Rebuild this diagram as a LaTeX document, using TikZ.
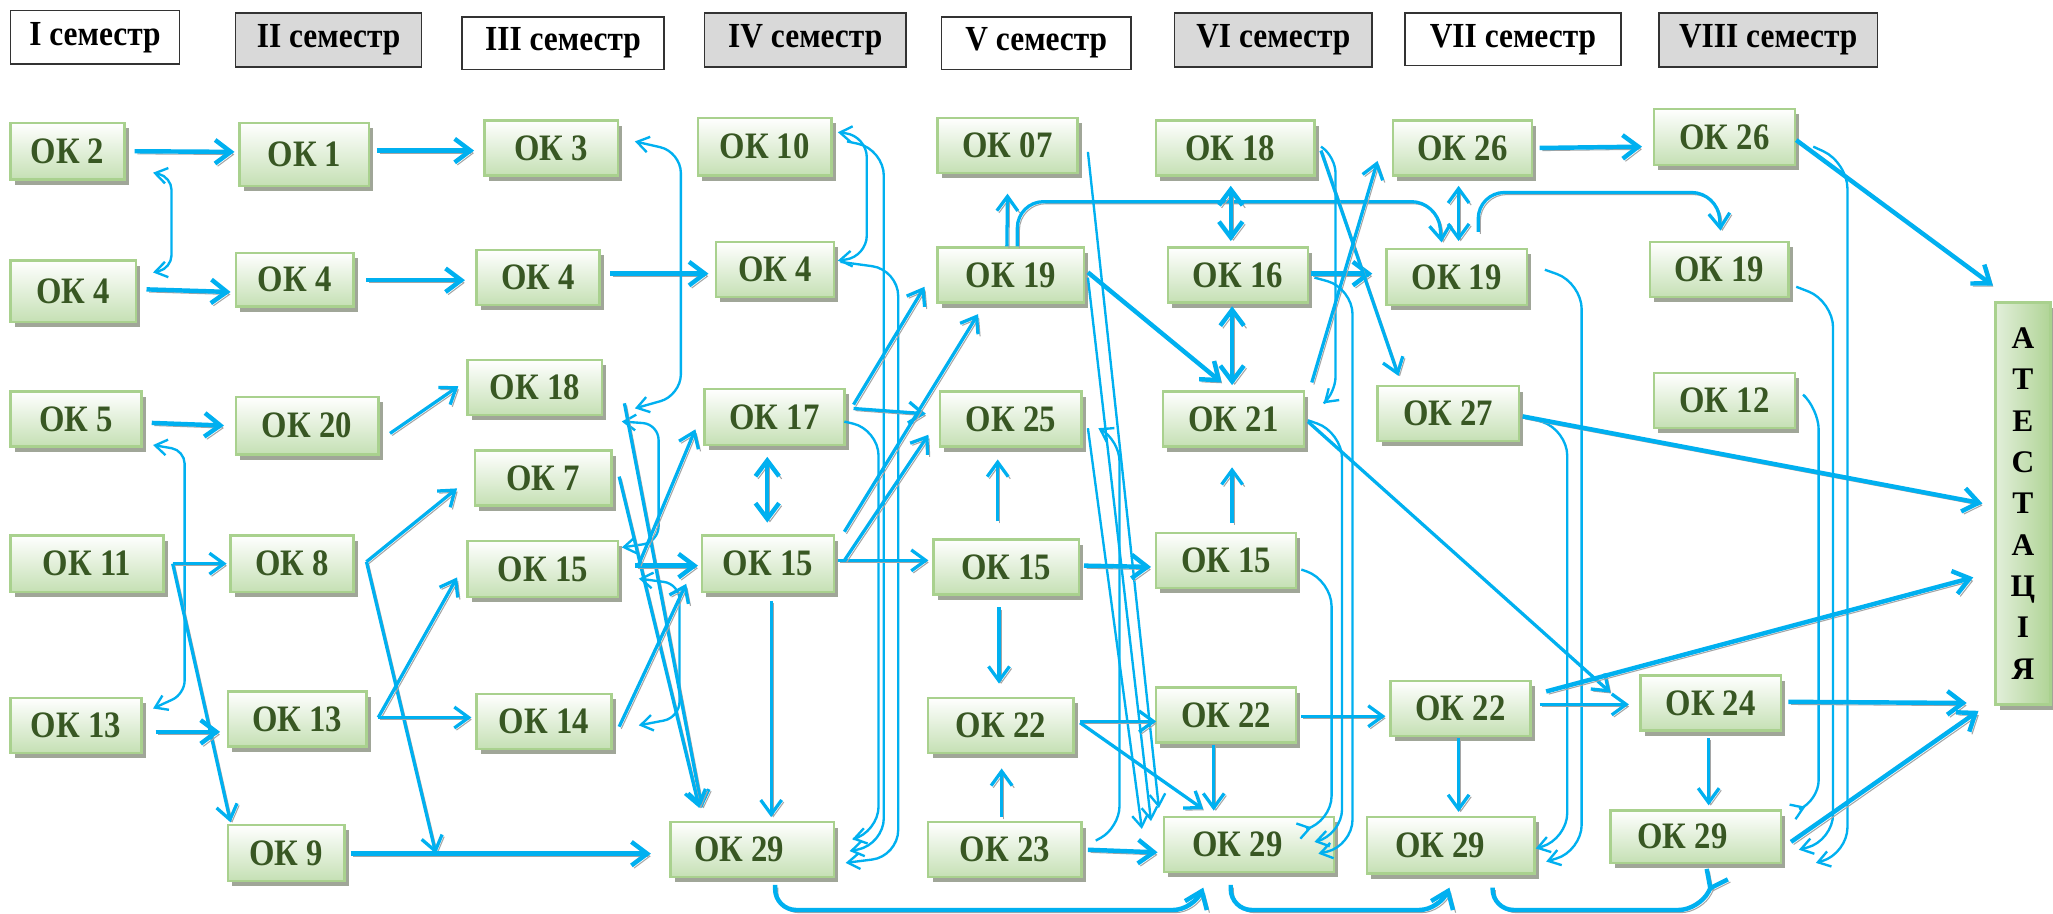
\documentclass[tikz,border=0pt]{standalone}
\usepackage{fontspec}
\setmainfont{Liberation Serif}
\usetikzlibrary{arrows.meta,shadows}
\definecolor{cy}{RGB}{0,176,240}
\definecolor{okborder}{RGB}{169,209,142}
\definecolor{okfill}{RGB}{197,224,180}
\definecolor{oktext}{RGB}{56,87,35}
\definecolor{okshadow}{RGB}{160,166,152}
\definecolor{hdrgray}{RGB}{217,217,217}
\definecolor{lshadow}{RGB}{165,165,165}
\definecolor{attleft}{RGB}{226,239,218}
\definecolor{attright}{RGB}{176,212,150}
\newcommand\okbox[7]{%
  \pgfmathsetmacro\okW{(#4-#2)*0.5}%
  \pgfmathsetmacro\okH{(#5-#3)*0.5}%
  \pgfmathsetmacro\okX{(#2+#4)/2}%
  \pgfmathsetmacro\okY{(#3+#5)/2}%
  \node[okb, minimum width=\okW pt, minimum height=\okH pt,
        label={[oktxt,xshift=#7pt]center:\scalebox{1}[1.14]{#6}}] (#1) at (\okX,\okY) {};}
\newcommand\hdrbox[7]{%
  \pgfmathsetmacro\okW{(#4-#2)*0.5}%
  \pgfmathsetmacro\okH{(#5-#3)*0.5}%
  \pgfmathsetmacro\okX{(#2+#4)/2}%
  \pgfmathsetmacro\okY{(#3+#5)/2}%
  \node[hdr, fill=#6, minimum width=\okW pt, minimum height=\okH pt] (#1) at (\okX,\okY) {\scalebox{1}[1.12]{#7}};}
\begin{document}
\begin{tikzpicture}[x=0.5pt,y=-0.5pt,
  okb/.style={draw=okborder, line width=0.9pt, top color=white, bottom color=okfill, inner sep=0pt,
    drop shadow={shadow xshift=1.6pt, shadow yshift=-2pt, fill=okshadow, opacity=1}},
  oktxt/.style={font=\bfseries\fontsize{12.5}{14}\selectfont, text=oktext, inner sep=0pt},
  hdr/.style={draw=black!80, line width=0.6pt, inner sep=0pt, font=\bfseries\fontsize{12}{14}\selectfont},
  attb/.style={draw=okborder, line width=0.9pt, left color=attleft, right color=attright, inner sep=0pt,
    align=center, font=\bfseries\fontsize{12}{15.8}\selectfont,
    drop shadow={shadow xshift=1.6pt, shadow yshift=-2pt, fill=okshadow, opacity=1}},
  thk/.style={draw=cy, line width=1.7pt, >={Straight Barb[length=6pt,width=9pt]},
    preaction={draw=lshadow, transform canvas={shift={(1pt,-1pt)}}}},
  mid/.style={draw=cy, line width=1.25pt, >={Straight Barb[length=5.5pt,width=8pt]},
    preaction={draw=lshadow, transform canvas={shift={(0.8pt,-0.8pt)}}}},
  thn/.style={draw=cy, line width=0.9pt, >={Straight Barb[length=4.5pt,width=6pt]}}
]
\useasboundingbox (0,0) rectangle (1568,698);
\fill[white] (0,0) rectangle (1568,698);

% semester headers
\hdrbox{hI}{8}{8}{137}{49}{white}{I семестр}
\hdrbox{hII}{180}{10}{322}{51}{hdrgray}{II семестр}
\hdrbox{hIII}{353}{13}{507}{53}{white}{III семестр}
\hdrbox{hIV}{538}{10}{692}{51}{hdrgray}{IV семестр}
\hdrbox{hV}{719}{13}{864}{53}{white}{V семестр}
\hdrbox{hVI}{897}{10}{1048}{51}{hdrgray}{VI семестр}
\hdrbox{hVII}{1073}{10}{1238}{50}{white}{VII семестр}
\hdrbox{hVIII}{1267}{10}{1434}{51}{hdrgray}{VIII семестр}

% boxes
\okbox{a2}{8}{94}{95}{137}{ОК 2}{0}
\okbox{a4}{8}{199}{104}{246}{ОК 4}{0}
\okbox{a5}{8}{299}{108}{341}{ОК 5}{0}
\okbox{a11}{8}{409}{125}{452}{ОК 11}{0}
\okbox{a13}{8}{533}{108}{575}{ОК 13}{0}
\okbox{b1}{183}{94}{282}{142}{ОК 1}{0}
\okbox{b4}{180}{193}{270}{234}{ОК 4}{0}
\okbox{b20}{180}{303}{289}{347}{ОК 20}{0}
\okbox{b8}{176}{409}{270}{452}{ОК 8}{0}
\okbox{b13}{174}{528}{280}{570}{ОК 13}{0}
\okbox{b9}{174}{630}{263}{673}{ОК 9}{0}
\okbox{c3}{370}{92}{472}{134}{ОК 3}{0}
\okbox{c4}{364}{191}{458}{233}{ОК 4}{0}
\okbox{c18}{357}{275}{460}{317}{ОК 18}{0}
\okbox{c7}{363}{344}{467}{386}{ОК 7}{0}
\okbox{c15}{357}{413}{472}{456}{ОК 15}{0}
\okbox{c14}{364}{530}{467}{572}{ОК 14}{0}
\okbox{d10}{533}{90}{635}{134}{ОК 10}{0}
\okbox{d4}{547}{185}{637}{227}{ОК 4}{0}
\okbox{d17}{538}{297}{645}{340}{ОК 17}{0}
\okbox{d15}{536}{409}{637}{452}{ОК 15}{0}
\okbox{d29}{512}{628}{637}{670}{ОК 29}{-5}
\okbox{e07}{716}{90}{823}{132}{ОК 07}{0}
\okbox{e19}{716}{189}{828}{231}{ОК 19}{0}
\okbox{e25}{718}{299}{826}{341}{ОК 25}{0}
\okbox{e15}{713}{412}{824}{454}{ОК 15}{0}
\okbox{e22}{709}{533}{820}{575}{ОК 22}{0}
\okbox{e23}{709}{628}{826}{670}{ОК 23}{0}
\okbox{f18}{883}{92}{1004}{134}{ОК 18}{-2}
\okbox{f16}{892}{189}{999}{231}{ОК 16}{0}
\okbox{f21}{888}{299}{996}{341}{ОК 21}{0}
\okbox{f15}{883}{407}{990}{449}{ОК 15}{0}
\okbox{f22}{883}{525}{990}{567}{ОК 22}{0}
\okbox{f29}{889}{624}{1019}{666}{ОК 29}{-4.5}
\okbox{g26}{1064}{92}{1170}{134}{ОК 26}{0}
\okbox{g19}{1059}{190}{1166}{233}{ОК 19}{0}
\okbox{g27}{1052}{295}{1160}{337}{ОК 27}{0}
\okbox{g22}{1062}{520}{1169}{562}{ОК 22}{0}
\okbox{g29}{1044}{624}{1172}{667}{ОК 29}{-4}
\okbox{h26}{1263}{83}{1371}{126}{ОК 26}{0}
\okbox{h19}{1260}{185}{1366}{227}{ОК 19}{0}
\okbox{h12}{1263}{285}{1371}{327}{ОК 12}{0}
\okbox{h24}{1253}{516}{1360}{558}{ОК 24}{0}
\okbox{h29}{1230}{619}{1360}{659}{ОК 29}{-5}
\node[attb, minimum width=21pt, minimum height=153.5pt] (att) at (1545,384.5) {А\\Т\\Е\\С\\Т\\А\\Ц\\І\\Я};

% ---- I -> II
\draw[thk,->] ([shift={(7,0)}]a2.east) -- ([shift={(-3,-2)}]b1.west);
\draw[thn,<->,rounded corners=5pt] ([shift={(21,-6)}]a2.south east) -- (131,135) -- (131,205) -- ([shift={(12,10)}]a4.north east);
\draw[thk,->] ([shift={(7,-1.5)}]a4.east) -- ([shift={(-3,9.5)}]b4.west);
\draw[thk,->] ([shift={(7,3)}]a5.east) -- ([shift={(-8,0)}]b20.west);
\draw[thn,<->,rounded corners=5pt] ([shift={(8,-2)}]a5.south east) -- (141,344) -- (141,530) -- ([shift={(8,9)}]a13.north east);
\draw[mid,->] ([shift={(6,0)}]a11.east) -- ([shift={(-2,0)}]b8.west);
\draw[mid,->] ([shift={(6,0)}]a11.east) -- ([shift={(3,-1)}]b9.north west);
\draw[thk,->] ([shift={(10,5)}]a13.east) -- ([shift={(-5,10)}]b13.west);

% ---- II -> III
\draw[thk,->] ([shift={(5,-3)}]b1.east) -- ([shift={(-7,2)}]c3.west);
\draw[thk,->] ([shift={(9,0.5)}]b4.east) -- ([shift={(-8,2)}]c4.west);
\draw[mid,->] ([shift={(8,6)}]b20.east) -- ([shift={(-6,-1)}]c18.west);
\draw[mid,->] ([shift={(9,-1.5)}]b8.east) -- ([shift={(-13,8)}]c7.west);
\draw[mid,->] ([shift={(9,-1.5)}]b8.east) -- ([shift={(69,0.5)}]b9.east);
\draw[mid,->] ([shift={(8,-1)}]b13.east) -- ([shift={(-7,6.5)}]c15.west);
\draw[mid,->] ([shift={(8,-1)}]b13.east) -- ([shift={(-3,-3)}]c14.west);
\draw[thk,->] ([shift={(4,0.5)}]b9.east) -- ([shift={(-14,3)}]d29.west);

% ---- III -> IV
\draw[thk,->] ([shift={(7,-3)}]c4.east) -- ([shift={(-5,3)}]d4.west);
\draw[thn,<->,rounded corners=8pt] ([shift={(12,-5)}]c3.east) -- (520,116) -- (520,302) -- ([shift={(24,-6)}]c18.south east);
\draw[thn,<->,rounded corners=6pt] ([shift={(14,4)}]c18.south east) -- (503,324) -- (503,414) -- ([shift={(2,6)}]c15.north east);
\draw[mid,->] ([shift={(16,12)}]c18.east) -- ([shift={(25,-10)}]d29.north west);
\draw[mid,->] ([shift={(5,-1)}]c7.east) -- ([shift={(23,-10)}]d29.north west);
\draw[thk,->] ([shift={(12,-2.5)}]c15.east) -- ([shift={(-2,1.5)}]d15.west);
\draw[mid,->] ([shift={(15,-3.5)}]c15.east) -- ([shift={(-6,-13)}]d17.south west);
\draw[thn,<->,rounded corners=6pt] ([shift={(15,-15)}]c15.south east) -- (519,446) -- (519,548) -- ([shift={(20,3)}]c14.east);
\draw[mid,->] ([shift={(5,4)}]c14.east) -- ([shift={(-11,-7)}]d15.south west);

% ---- IV
\draw[thn,<->,rounded corners=8pt] ([shift={(4,-11)}]d10.east) -- (662,104) -- (662,196) -- ([shift={(2,-7)}]d4.east);
\draw[thn,->,rounded corners=10pt] ([shift={(11,-4)}]d10.east) -- (675,114) -- (675,645) -- ([shift={(11,1)}]d29.east);
\draw[thn,->,rounded corners=10pt] ([shift={(4,-6)}]d4.east) -- (686,206) -- (686,654) -- ([shift={(8,10)}]d29.east);
\draw[thn,->,rounded corners=10pt] ([shift={(-1,3.5)}]d17.east) -- (671,328) -- (671,636) -- ([shift={(13,-8)}]d29.east);
\draw[thk,<->] ([shift={(-5.5,8)}]d17.south) -- ([shift={(-0.5,-9)}]d15.north);
\draw[mid,->] ([shift={(2.5,6)}]d15.south) -- ([shift={(14.5,-3)}]d29.north);
\draw[mid,->] ([shift={(2,-2.5)}]d15.east) -- ([shift={(-3,-5)}]e15.west);
\draw[mid,->] ([shift={(6,-9.5)}]d17.east) -- ([shift={(-9,9)}]e19.west);
\draw[mid,->] ([shift={(6,-6.5)}]d17.east) -- ([shift={(-10,-4)}]e25.west);
\draw[mid,->] ([shift={(7,-2)}]d15.north east) -- ([shift={(-25,8)}]e19.south);
\draw[mid,->] ([shift={(7,-2.5)}]d15.east) -- ([shift={(-8,12)}]e25.west);
\draw[thk,->,rounded corners=8pt] ([shift={(17.5,5)}]d29.south) -- (592,695) -- (912,695) -- ([shift={(-35,11)}]f29.south);

% ---- V
\draw[mid,->] ([shift={(-3,0)}]e19.north) -- ([shift={(0,15)}]e07.south);
\draw[mid,->,rounded corners=10pt] ([shift={(5,0)}]e19.north) -- (777,154) -- (1098,154) -- ([shift={(-11.5,-4)}]g19.north);
\draw[thn,->] ([shift={(7,5)}]e07.east) -- ([shift={(-3,-6)}]f29.north west);
\draw[thn,->] ([shift={(2,2)}]e19.east) -- ([shift={(-9,4)}]f29.north west);
\draw[thn,->] ([shift={(4,7)}]e25.east) -- ([shift={(-16,10)}]f29.north west);
\draw[thk,->] ([shift={(2,-2)}]e19.east) -- ([shift={(-9,-6)}]f21.north);
\draw[thn,->,rounded corners=8pt] ([shift={(10,-7)}]e23.east) -- (855,632) -- (855,336) -- ([shift={(12,7)}]e25.east);
\draw[mid,->] ([shift={(-6.5,-13)}]e15.north) -- ([shift={(-10,9)}]e25.south);
\draw[mid,->] ([shift={(-5.5,9)}]e15.south) -- ([shift={(-1.5,-10)}]e22.north);
\draw[thk,->] ([shift={(3,-1)}]e15.east) -- ([shift={(-3,5)}]f15.west);
\draw[mid,->] ([shift={(4,-3)}]e22.east) -- ([shift={(1,5)}]f22.west);
\draw[mid,->] ([shift={(4,-2)}]e22.east) -- ([shift={(-35,-5)}]f29.north);
\draw[mid,->] ([shift={(-2.5,-3)}]e23.north) -- ([shift={(0.5,11)}]e22.south);
\draw[thk,->] ([shift={(4,0)}]e23.east) -- ([shift={(-4,6)}]f29.west);

% ---- VI
\draw[thk,<->] ([shift={(-3.5,7)}]f18.south) -- ([shift={(-5.5,-4)}]f16.north);
\draw[thk,<->] ([shift={(-4.5,2)}]f16.south) -- ([shift={(-1,-4)}]f21.north);
\draw[mid,->] ([shift={(4.5,-7)}]f15.north) -- ([shift={(-1,15)}]f21.south);
\draw[mid,->] ([shift={(-9.5,1)}]f22.south) -- ([shift={(-27,-4)}]f29.north);
\draw[mid,->] ([shift={(3,1)}]f22.east) -- ([shift={(-3,6)}]g22.west);
\draw[thk,->] ([shift={(1,-1)}]f16.east) -- ([shift={(-10,-2.5)}]g19.west);
\draw[thn,->,rounded corners=6pt] ([shift={(4,-1)}]f18.east) -- (1020,120) -- (1020,300) -- ([shift={(14,10)}]f21.north east);
\draw[mid,->] ([shift={(4,2)}]f18.east) -- ([shift={(17,-7)}]g27.north west);
\draw[mid,->] ([shift={(5,-6)}]f21.north east) -- ([shift={(-11,-12)}]g26.south west);
\draw[thn,->,rounded corners=10pt] ([shift={(4,2)}]f16.east) -- (1033,220) -- (1033,646) -- ([shift={(-13,7)}]f29.east);
\draw[thn,->,rounded corners=10pt] ([shift={(2,1)}]f21.east) -- (1025,330) -- (1025,638) -- ([shift={(-16,-2)}]f29.east);
\draw[thn,->,rounded corners=10pt] ([shift={(3,7)}]f15.east) -- (1017,443) -- (1017,628) -- ([shift={(-18,-13)}]f29.east);
\draw[mid,->] ([shift={(2,2)}]f21.east) -- ([shift={(-22,-8)}]h24.west);
\draw[thk,->,rounded corners=8pt] ([shift={(-14,9)}]f29.south) -- (940,695) -- (1100,695) -- ([shift={(-1,10)}]g29.south);

% ---- VII
\draw[thk,->] ([shift={(5,0)}]g26.east) -- ([shift={(-8,7.5)}]h26.west);
\draw[mid,<->] ([shift={(-3,7)}]g26.south) -- ([shift={(1.5,-5)}]g19.north);
\draw[mid,->,rounded corners=10pt] ([shift={(16.5,-12)}]g19.north) -- (1129,147) -- (1312,147) -- ([shift={(1,-8)}]h19.north);
\draw[thn,->,rounded corners=10pt] ([shift={(13,-5.5)}]g19.east) -- (1208,216) -- (1208,650) -- ([shift={(8,12.5)}]g29.east);
\draw[thn,->,rounded corners=10pt] ([shift={(3,2)}]g27.east) -- (1197,328) -- (1197,641) -- ([shift={(0,2.5)}]g29.east);
\draw[thk,->] ([shift={(2,2)}]g27.east) -- ([shift={(-9,0)}]att.west);
\draw[mid,->] ([shift={(6,-3)}]g22.east) -- ([shift={(-8,1)}]h24.west);
\draw[thk,->] ([shift={(11,9)}]g22.north east) -- ([shift={(-16,56.5)}]att.west);
\draw[mid,->] ([shift={(-1.5,1)}]g22.south) -- ([shift={(6,-3)}]g29.north);
\draw[thk,->,rounded corners=8pt] ([shift={(32,10)}]g29.south) -- (1140,695) -- (1298,695) -- ([shift={(10,21)}]h29.south);

% ---- VIII
\draw[thk,->] ([shift={(0,2.5)}]h26.east) -- ([shift={(-1,-12)}]att.north west);
\draw[thn,->,rounded corners=10pt] ([shift={(13,7.5)}]h26.east) -- (1411,124) -- (1411,652) -- ([shift={(26,20)}]h29.east);
\draw[thn,->,rounded corners=10pt] ([shift={(5,13)}]h19.east) -- (1400,230) -- (1400,642) -- ([shift={(13,10)}]h29.east);
\draw[thn,->,rounded corners=8pt] ([shift={(7,-3)}]h12.east) -- (1389,312) -- (1389,612) -- ([shift={(18,-2)}]h29.north east);
\draw[thk,->] ([shift={(5,-1)}]h24.east) -- ([shift={(-21,-2)}]att.south west);
\draw[thk,->] ([shift={(7,4)}]h29.east) -- ([shift={(-12,4)}]att.south west);
\draw[mid,->] ([shift={(-1.5,5)}]h24.south) -- ([shift={(10,-3)}]h29.north);
\end{tikzpicture}
\end{document}
